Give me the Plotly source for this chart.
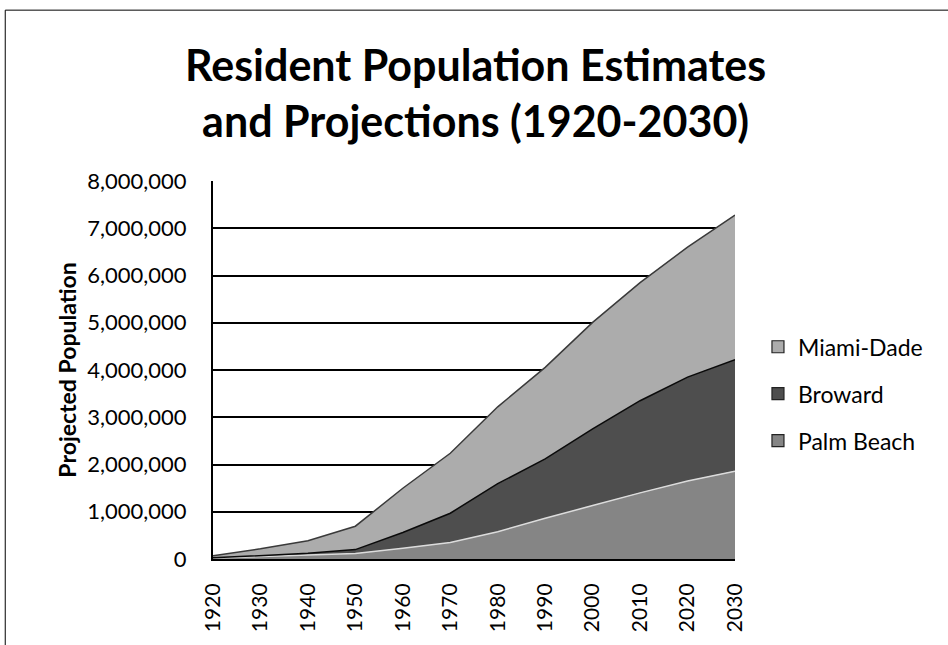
import plotly.graph_objects as go

years = [1920, 1930, 1940, 1950, 1960, 1970, 1980, 1990, 2000, 2010, 2020, 2030]
palm_beach = [19000, 52000, 80000, 115000, 228000, 349000, 577000, 864000, 1131000, 1400000, 1650000, 1860000]
broward = [5000, 21000, 40000, 84000, 334000, 620000, 1018000, 1255000, 1623000, 1950000, 2200000, 2360000]
miami_dade = [43000, 143000, 268000, 495000, 935000, 1268000, 1626000, 1937000, 2253000, 2500000, 2750000, 3060000]

series = [
    ("Palm Beach", palm_beach, "#858585", "#dcdcdc"),
    ("Broward", broward, "#4e4e4e", "#0a0a0a"),
    ("Miami-Dade", miami_dade, "#acacac", "#3a3a3a"),
]

fig = go.Figure()
for name, vals, fill, line in series:
    fig.add_trace(go.Scatter(
        x=years, y=vals, name=name, mode="lines", stackgroup="one",
        fillcolor=fill, line=dict(color=line, width=1.5), showlegend=False,
    ))

# legend entries (square swatches), top to bottom as in the reference
for name, vals, fill, line in reversed(series):
    fig.add_trace(go.Scatter(
        x=[None], y=[None], name=name, mode="markers", legendgroup=name,
        marker=dict(symbol="square", size=12, color=fill, line=dict(color="#222222", width=1.2)),
    ))

font_family = "Lato, Open Sans, sans-serif"
fig.update_layout(
    width=948, height=645,
    margin=dict(l=213, r=213, t=181, b=86),
    paper_bgcolor="white", plot_bgcolor="white",
    font=dict(family=font_family, color="black", size=22),
    showlegend=True,
    legend=dict(x=1.044, y=0.437, xanchor="left", yanchor="middle",
                font=dict(size=23), tracegroupgap=14, traceorder="grouped"),
    xaxis=dict(range=[1920, 2030], tickvals=years, ticktext=[str(y) for y in years],
               tickangle=-90, showline=True, linecolor="black", linewidth=2,
               showgrid=False, ticks="", zeroline=False, tickfont=dict(size=21),
               ticklabelstandoff=14),
    yaxis=dict(range=[0, 8000000], dtick=1000000, tickformat=",", showline=True,
               linecolor="black", linewidth=2, showgrid=True, gridcolor="black",
               gridwidth=1.5, zeroline=False, ticks="", tickfont=dict(size=22),
               ticklabelstandoff=20,
               title=dict(text="<b>Projected Population</b>", font=dict(size=23), standoff=4)),
    annotations=[dict(text="<b>Resident Population Estimates<br>and Projections (1920-2030)</b>",
                      xref="paper", yref="paper", x=0.503, y=1.235, xanchor="center", yanchor="middle",
                      showarrow=False, font=dict(family=font_family, size=43, color="black"))],
    shapes=[dict(type="rect", xref="paper", yref="paper", x0=-0.398, x1=1.6, y0=-0.4, y1=1.452,
                 line=dict(color="black", width=1), layer="below")],
)
fig.write_html("out.html")
